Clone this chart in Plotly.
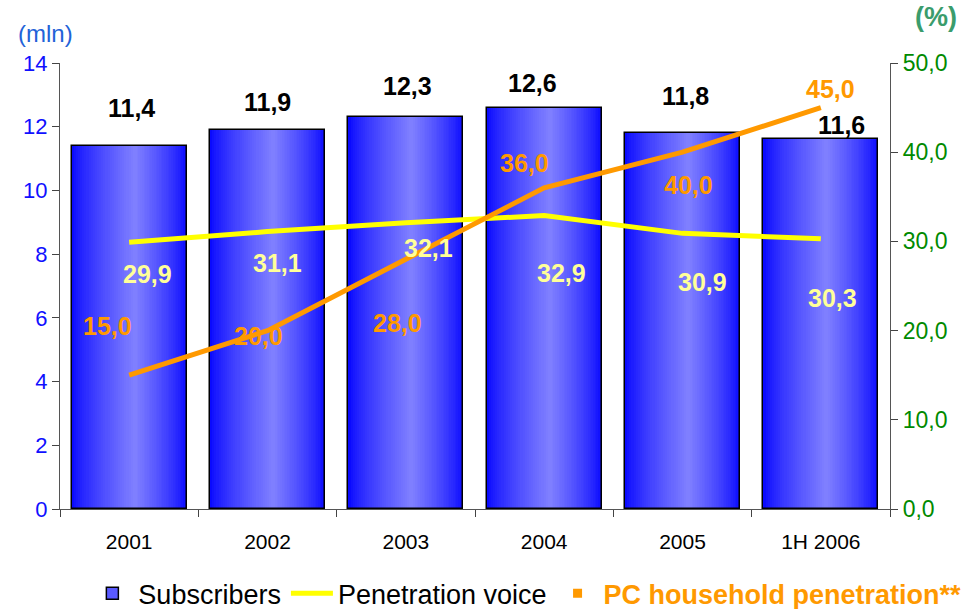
import plotly.graph_objects as go

# ---- data ----
categories = ["2001", "2002", "2003", "2004", "2005", "1H 2006"]
subscribers = [11.4, 11.9, 12.3, 12.6, 11.8, 11.6]          # mln
penetration_voice = [29.9, 31.1, 32.1, 32.9, 30.9, 30.3]    # %
pc_household = [15.0, 20.0, 28.0, 36.0, 40.0, 45.0]         # %

FONT = "Arial, Liberation Sans, sans-serif"
BAR_W = 0.83
PEAK = 0.55          # where the bar highlight sits across its width
EDGE = (10, 10, 255)
LIGHT = (130, 130, 255)
N_BANDS = 30

fig = go.Figure()

# cylinder-style shading: nested bars, lighter towards the highlight
for k in range(N_BANDS):
    f = k / N_BANDS
    a = PEAK * f
    b = PEAK + (1 - PEAK) * (1 - f)
    t = (f ** 0.8)
    col = tuple(round(EDGE[i] + (LIGHT[i] - EDGE[i]) * t) for i in range(3))
    fig.add_trace(go.Bar(
        x=categories, y=subscribers,
        width=(b - a) * BAR_W, offset=-BAR_W / 2 + a * BAR_W,
        marker=dict(color="rgb(%d,%d,%d)" % col, line=dict(width=0)),
        showlegend=False, hoverinfo="skip",
    ))

# outline + legend entry
fig.add_trace(go.Bar(
    x=categories, y=subscribers, width=BAR_W, offset=-BAR_W / 2,
    marker=dict(color="rgba(80,80,255,0.0)", line=dict(color="black", width=1.5)),
    name="Subscribers", showlegend=False,
))
fig.add_trace(go.Bar(
    x=[None], y=[None], name="Subscribers",
    marker=dict(color="#5a5aff", line=dict(color="black", width=1.5)),
))

fig.add_trace(go.Scatter(
    x=categories, y=penetration_voice, yaxis="y2", mode="lines",
    line=dict(color="#ffff00", width=5), name="Penetration voice",
))
fig.add_trace(go.Scatter(
    x=categories, y=pc_household, yaxis="y2", mode="lines",
    line=dict(color="#ff9900", width=5), showlegend=False,
))
fig.add_trace(go.Scatter(
    x=[None], y=[None], yaxis="y2", mode="markers",
    marker=dict(color="#ff9900", symbol="square", size=9),
    name="<b><span style='color:#ff9900'>PC household penetration**</span></b>",
))

# value labels (pixel offsets relative to each data point)
bar_dx = [2, 0, 2, -12, 3, 21]
bar_dy = [38, 28, 31, 25, 37, 14]
voice_dx = [18, 10, 23, 17, 20, 12]
voice_dy = [-32, -31, -25, -57, -49, -59]
pc_dx = [-22, -9, -8, -20, 6, 10]
pc_dy = [49, -5, -64, 25, -33, 19]


def fmt(v):
    return "<b>%s</b>" % f"{v:.1f}".replace(".", ",")


ann = []
for i in range(len(categories)):
    ann.append(dict(x=i, y=subscribers[i], xref="x", yref="y",
                    text=fmt(subscribers[i]),
                    showarrow=False, xshift=bar_dx[i], yshift=bar_dy[i],
                    font=dict(family=FONT, size=25, color="black")))
    ann.append(dict(x=i, y=penetration_voice[i], xref="x", yref="y2",
                    text=fmt(penetration_voice[i]),
                    showarrow=False, xshift=voice_dx[i], yshift=voice_dy[i],
                    font=dict(family=FONT, size=25, color="#ffff99")))
    ann.append(dict(x=i, y=pc_household[i], xref="x", yref="y2",
                    text=fmt(pc_household[i]),
                    showarrow=False, xshift=pc_dx[i], yshift=pc_dy[i],
                    font=dict(family=FONT, size=25, color="#ff9900")))

ann.append(dict(x=-0.017, y=1.067, xref="paper", yref="paper", text="(mln)",
                showarrow=False, xanchor="center", yanchor="middle",
                font=dict(family=FONT, size=24, color="#2262d8")))
ann.append(dict(x=1.055, y=1.103, xref="paper", yref="paper", text="<b>(%)</b>",
                showarrow=False, xanchor="center", yanchor="middle",
                font=dict(family=FONT, size=27, color="#3a9c6c")))

fig.update_layout(
    width=974, height=609,
    margin=dict(l=60, r=84, t=63, b=100, autoexpand=False),
    paper_bgcolor="white", plot_bgcolor="white",
    barmode="overlay", bargap=0,
    separators=",.",
    font=dict(family=FONT, size=20, color="black"),
    annotations=ann,
    xaxis=dict(
        type="category", showgrid=False, showline=True, linecolor="#555",
        linewidth=1.2, ticks="outside", tickson="boundaries", ticklen=7,
        tickcolor="#444", tickfont=dict(family=FONT, size=21, color="black"),
        ticklabelstandoff=14, range=[-0.5, 5.5],
    ),
    yaxis=dict(
        range=[0, 14], dtick=2, showgrid=False, zeroline=False,
        showline=True, linecolor="#555", linewidth=1.2,
        ticks="outside", ticklen=7, tickcolor="#444",
        tickfont=dict(family=FONT, size=22, color="#1010ff"),
    ),
    yaxis2=dict(
        range=[0, 50], dtick=10, tickformat=".1f", overlaying="y", side="right",
        showgrid=False, zeroline=False, showline=True, linecolor="#555",
        linewidth=1.2, ticks="outside", ticklen=7, tickcolor="#444",
        tickfont=dict(family=FONT, size=23, color="#008a00"),
    ),
    legend=dict(
        orientation="h", x=1.092, xanchor="right",
        y=-0.19, yanchor="middle",
        font=dict(family=FONT, size=27, color="black"),
        itemwidth=42, bgcolor="rgba(0,0,0,0)", traceorder="normal",
    ),
)

fig.write_html("out.html")
